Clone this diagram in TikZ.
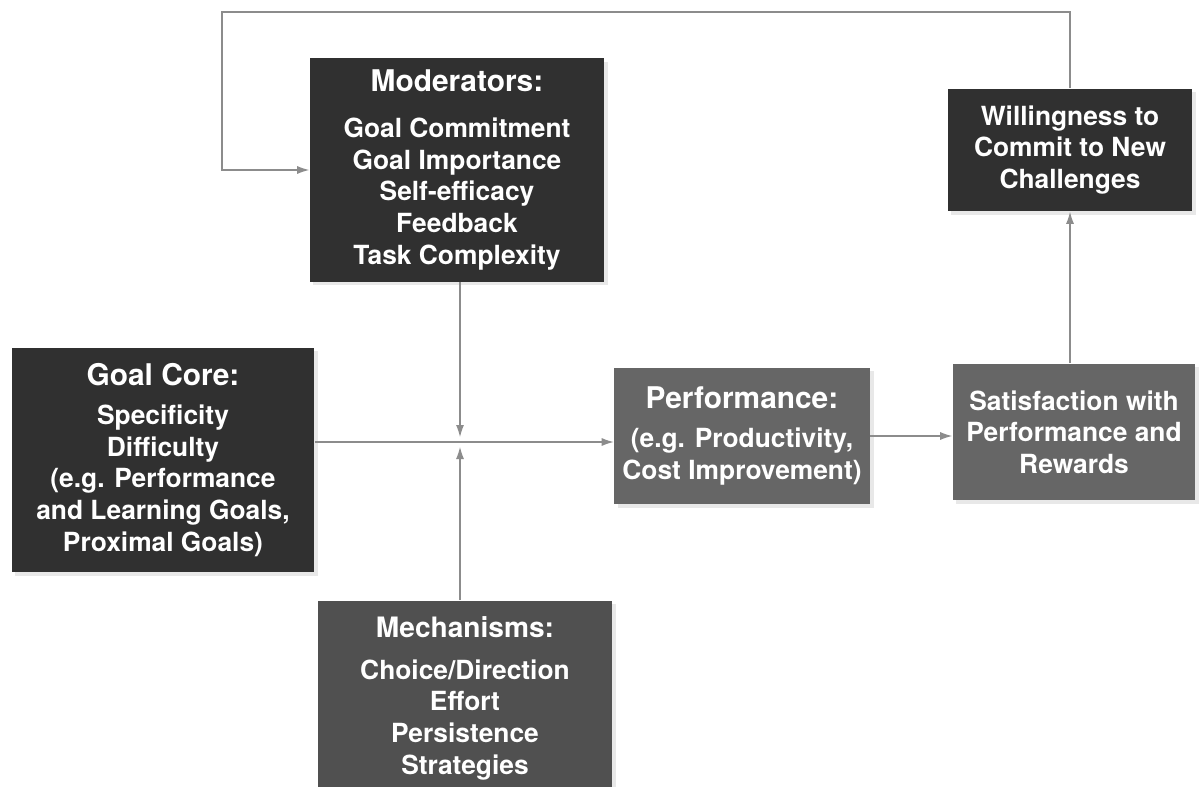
\documentclass[tikz,border=0pt]{standalone}
\usepackage{fontspec}
\setmainfont{TeX Gyre Heros}
\usetikzlibrary{arrows.meta,shadows}

\definecolor{boxdark}{HTML}{303030}
\definecolor{boxmid}{HTML}{505050}
\definecolor{boxlight}{HTML}{666666}
\definecolor{linegray}{HTML}{8C8C8C}

\begin{document}
\begin{tikzpicture}[x=0.02cm,y=-0.02cm,
    box/.style={fill=boxdark,text=white,align=center,inner sep=0pt,
      font=\bfseries\fontsize{15}{18}\selectfont,
      drop shadow={opacity=0.18,shadow xshift=2pt,shadow yshift=-2pt}},
    arr/.style={-{Latex[length=2.4mm,width=1.6mm]},draw=linegray,line width=0.6pt}]
  \clip (0,0) rectangle (1203,787);
  \fill[white] (0,0) rectangle (1203,787);

  \node[box,minimum width=5.9cm,minimum height=4.48cm] (moderators) at (457,170)
    {{\fontsize{17}{20}\selectfont Moderators:}\\[8pt]
     Goal Commitment\\ Goal Importance\\ Self-efficacy\\ Feedback\\ Task Complexity};
  \node[box,minimum width=4.9cm,minimum height=2.46cm] (willing) at (1070,150)
    {Willingness to\\ Commit to New\\ Challenges};
  \node[box,minimum width=6.06cm,minimum height=4.5cm] (goalcore) at (163,460)
    {{\fontsize{17}{20}\selectfont Goal Core:}\\[4pt]
     Specificity\\ Difficulty\\ (e.g. Performance\\ and Learning Goals,\\ Proximal Goals)};
  \node[box,fill=boxlight,minimum width=5.12cm,minimum height=2.74cm] (performance) at (742,436)
    {{\fontsize{17}{20}\selectfont Performance:}\\[4pt]
     (e.g. Productivity,\\ Cost Improvement)};
  \node[box,fill=boxlight,minimum width=4.86cm,minimum height=2.74cm] (satisfaction) at (1074,432)
    {Satisfaction with\\ Performance and\\ Rewards};
  \node[box,fill=boxmid,minimum width=5.9cm,minimum height=3.9cm] (mechanisms) at (465,698)
    {{\fontsize{16}{19}\selectfont Mechanisms:}\\[6pt]
     Choice/Direction\\ Effort\\ Persistence\\ Strategies};

  % where the two mediating arrows meet
  \coordinate (jn) at (460,442);
  \coordinate (jtop) at (460,437);
  \coordinate (jbot) at (460,447);
  \coordinate (loopcorner) at (222,12);

  \draw[arr] (goalcore.east |- jn) -- (performance.west |- jn);
  \draw[arr] (moderators.south -| jn) -- (jtop);
  \draw[arr] (mechanisms.north -| jn) -- (jbot);
  \draw[arr] (performance.east) -- (satisfaction.west |- performance.east);
  \draw[arr] (satisfaction.north -| willing.south) -- (willing.south);
  \draw[arr] (willing.north) |- (loopcorner) |- (moderators.west);
\end{tikzpicture}
\end{document}
